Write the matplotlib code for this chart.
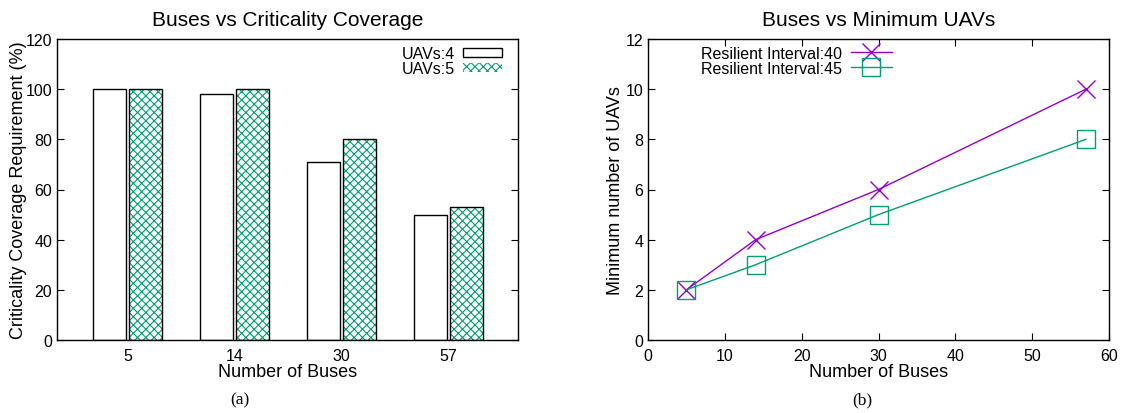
import numpy as np
import matplotlib
matplotlib.use("Agg")
import matplotlib.pyplot as plt

plt.rcParams['font.family'] = ['Liberation Sans', 'DejaVu Sans']
plt.rcParams['hatch.linewidth'] = 0.8

# data
buses = ['5', '14', '30', '57']
cov_uav4 = [100, 98, 71, 50]
cov_uav5 = [100, 100, 80, 53]

bus_n = [5, 14, 30, 57]
min_uav_40 = [2, 4, 6, 10]
min_uav_45 = [2, 3, 5, 8]

green = '#009e73'
purple = '#9400d3'

fig = plt.figure(figsize=(11.24, 4.14), dpi=100)
W, H = 1124, 414

# left panel: bar chart
ax1 = fig.add_axes([57 / W, 1 - 341 / H, (518 - 57) / W, (341 - 40) / H])
x = np.arange(len(buses))
bw = 0.31
ax1.bar(x - 0.168, cov_uav4, bw, color='white', edgecolor='black', linewidth=1, label='UAVs:4')
ax1.bar(x + 0.168, cov_uav5, bw, color='white', edgecolor=green, hatch='xxxx', linewidth=0, label='UAVs:5')
ax1.bar(x + 0.168, cov_uav5, bw, color='none', edgecolor='black', linewidth=1)
ax1.set_xlim(-0.66, 3.65)
ax1.set_ylim(0, 120)
ax1.set_xticks(x)
ax1.set_xticklabels(buses)
ax1.set_yticks(range(0, 121, 20))
ax1.tick_params(axis='y', direction='in', right=True, length=5, labelsize=11.5)
ax1.tick_params(axis='x', length=0, labelsize=11.5, pad=6)
ax1.set_xlabel('Number of Buses', fontsize=13, labelpad=0)
ax1.set_ylabel('Criticality Coverage Requirement (%)', fontsize=13, labelpad=-1)
ax1.set_title('Buses vs Criticality Coverage', fontsize=15, pad=10)
leg = ax1.legend(loc='upper right', bbox_to_anchor=(0.965, 0.977), frameon=False, markerfirst=False,
                 fontsize=11.5, handlelength=2.45, handleheight=0.45, labelspacing=0.0,
                 handletextpad=0.5, borderpad=0, borderaxespad=0)
for p in leg.get_patches():
    p.set_edgecolor('black')
leg.get_patches()[1].set_hatch('xxxx')
leg.get_patches()[1].set_edgecolor(green)

# right panel: line chart
ax2 = fig.add_axes([648 / W, 1 - 341 / H, (1109 - 648) / W, (341 - 40) / H])
ax2.plot(bus_n, min_uav_40, color=purple, marker='x', markersize=13, mew=1, lw=1,
         label='Resilient Interval:40')
ax2.plot(bus_n, min_uav_45, color=green, marker='s', markersize=13, mew=1, mfc='none', lw=1,
         label='Resilient Interval:45')
ax2.set_xlim(0, 60)
ax2.set_ylim(0, 12)
ax2.set_xticks(range(0, 61, 10))
ax2.set_yticks(range(0, 13, 2))
ax2.tick_params(direction='in', top=True, right=True, length=5, labelsize=11.5)
ax2.tick_params(axis='x', pad=6)
ax2.set_xlabel('Number of Buses', fontsize=13, labelpad=0)
ax2.set_ylabel('Minimum number of UAVs', fontsize=13, labelpad=1)
ax2.set_title('Buses vs Minimum UAVs', fontsize=15, pad=10)
ax2.legend(loc='upper right', bbox_to_anchor=(0.529, 0.977), frameon=False, markerfirst=False,
           fontsize=11.5, handlelength=2.56, labelspacing=0.0, handletextpad=0.55,
           borderpad=0, borderaxespad=0)

for ax in (ax1, ax2):
    for s in ax.spines.values():
        s.set_linewidth(1)

fig.text(240 / W, 1 - 400 / H, '(a)', ha='center', va='center', fontsize=12.5, family='Liberation Serif')
fig.text(862 / W, 1 - 400 / H, '(b)', ha='center', va='center', fontsize=12.5, family='Liberation Serif')

fig.savefig('out.png', dpi=100)
